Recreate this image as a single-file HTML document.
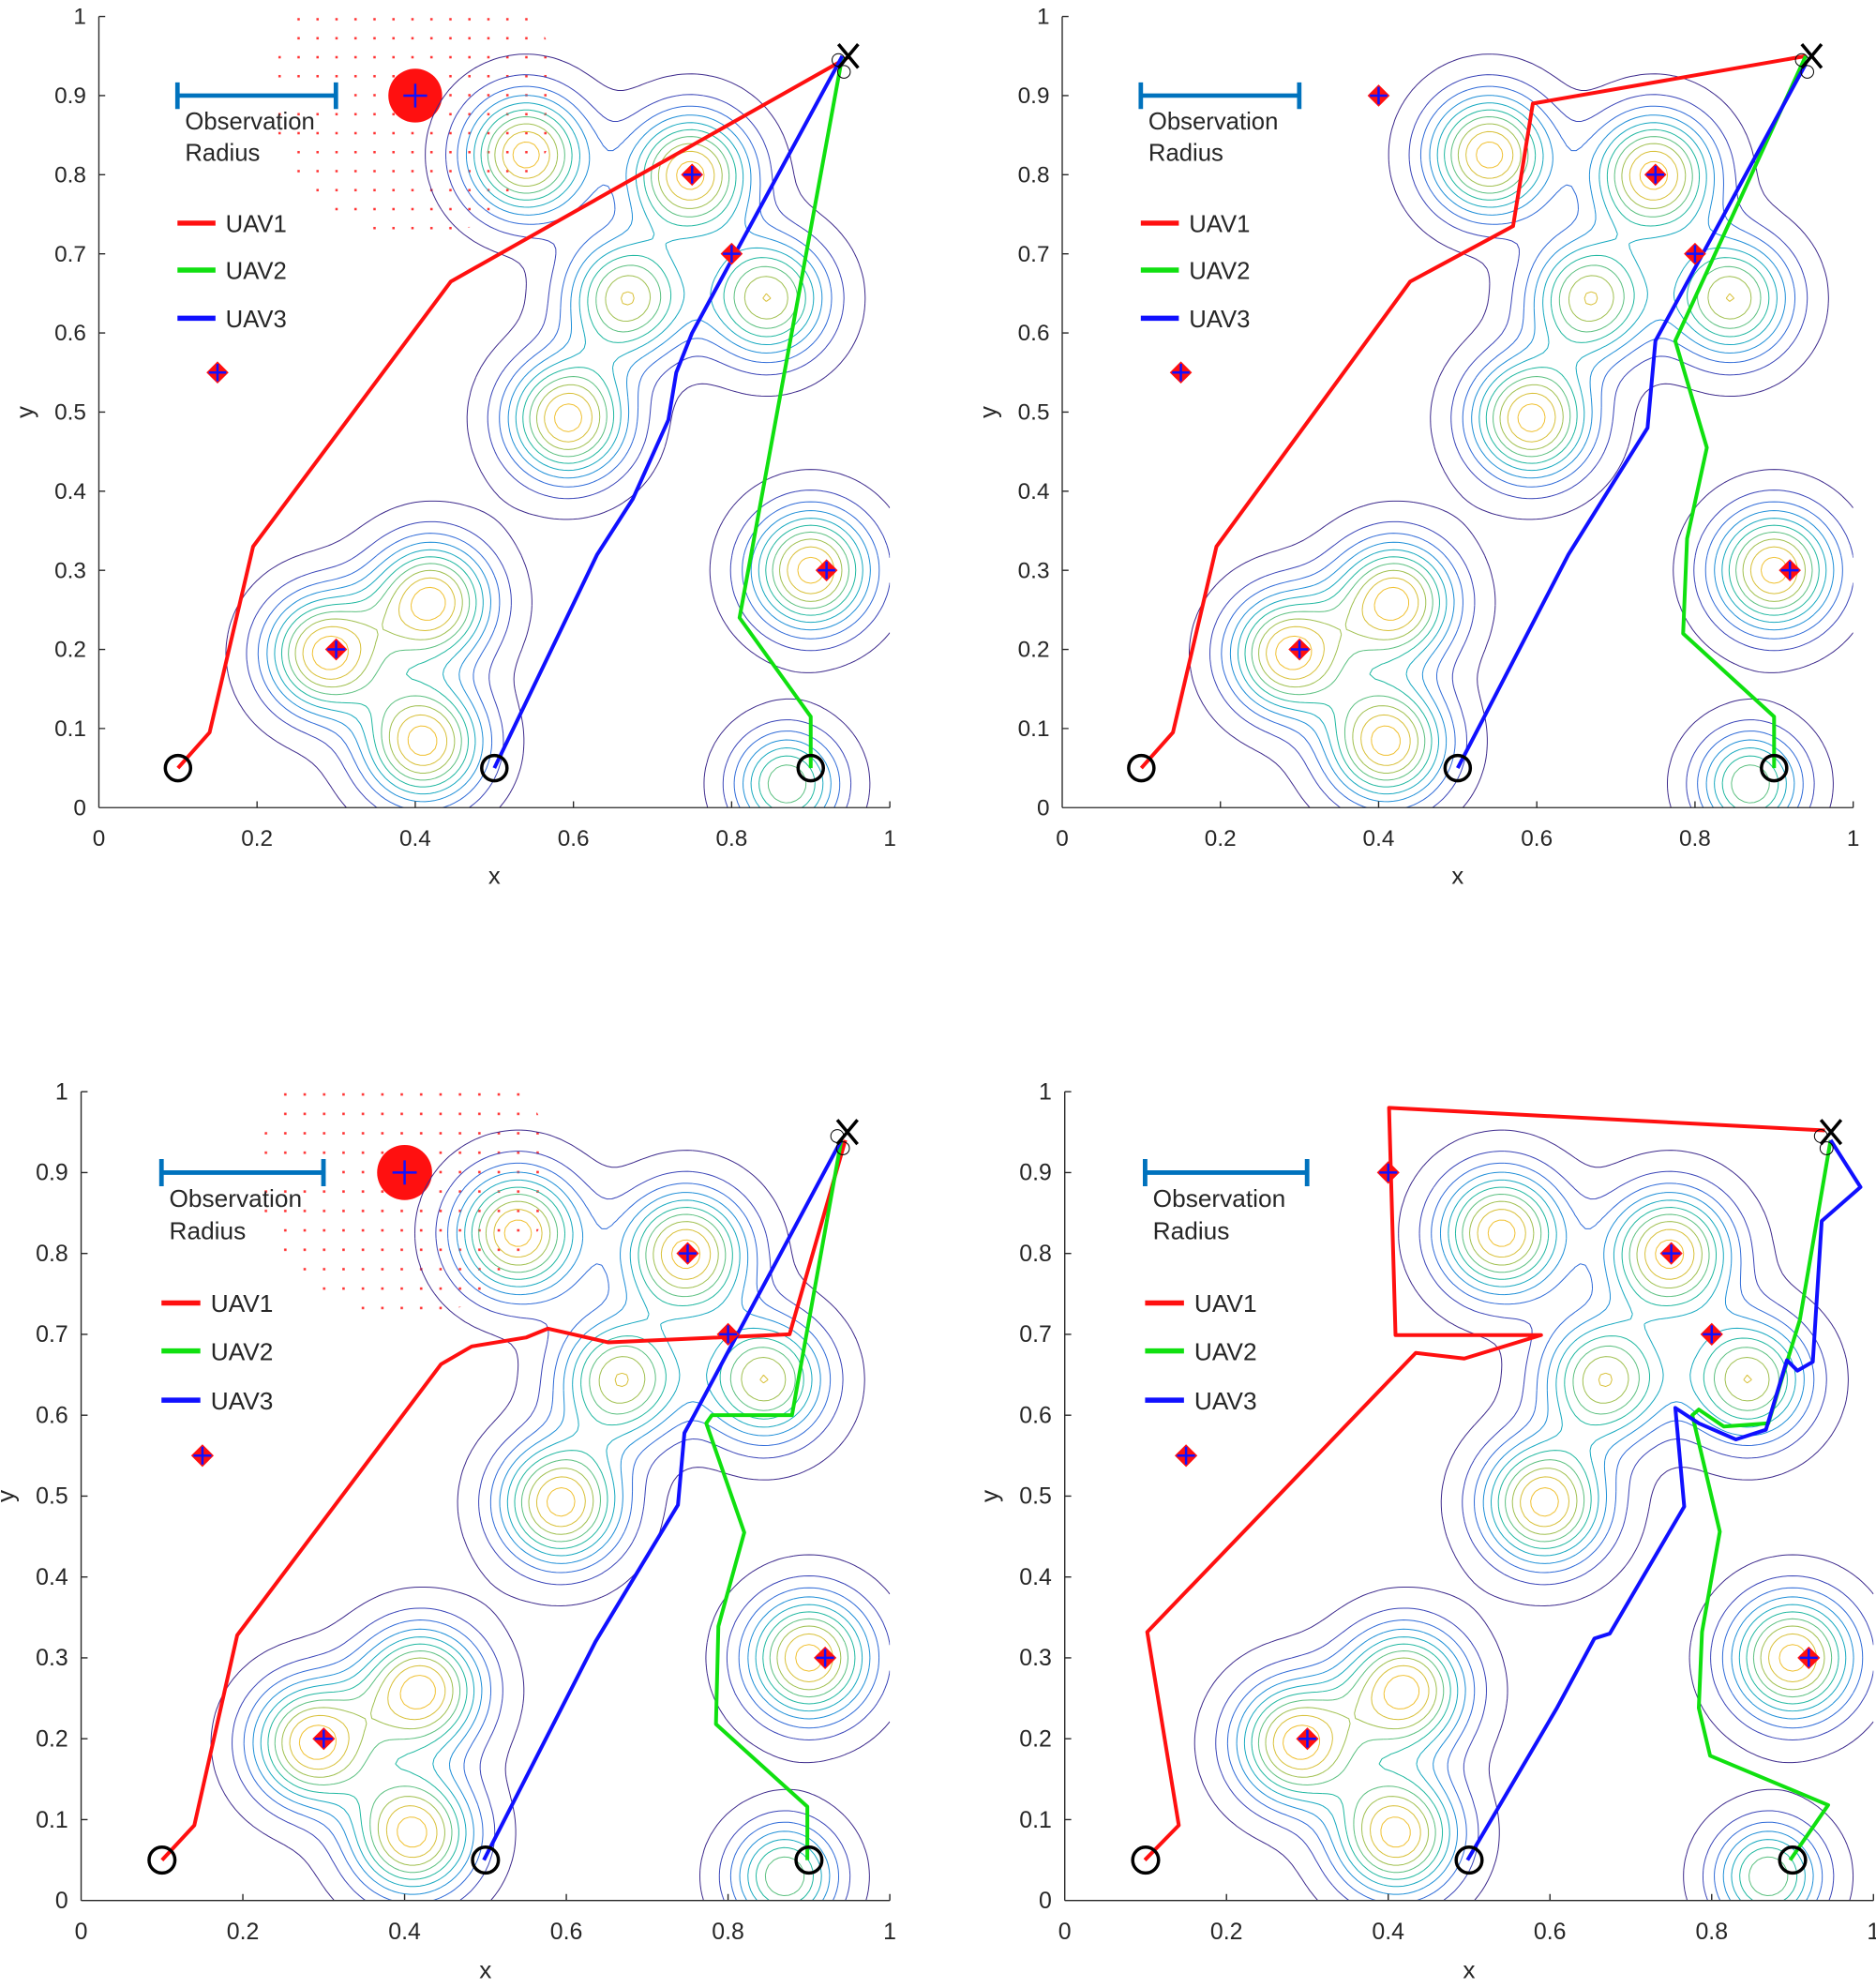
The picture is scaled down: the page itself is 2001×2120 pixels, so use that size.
<!DOCTYPE html>
<html><head><meta charset="utf-8"><style>
html,body{margin:0;padding:0;background:#fff}
svg{display:block}
text{font-family:"Liberation Sans",Arial,sans-serif;fill:#262626}
</style></head><body>
<svg width="2001" height="2120" viewBox="0 0 1480 1568" preserveAspectRatio="none" xmlns="http://www.w3.org/2000/svg">
<defs>
<clipPath id="unit" clipPathUnits="userSpaceOnUse"><rect x="0" y="0" width="1" height="1"/></clipPath>
<pattern id="dots" x="0" y="0" width="0.024" height="0.024" patternUnits="userSpaceOnUse">
<rect x="0.011" y="0.011" width="0.003" height="0.003" fill="#ff3030"/>
</pattern>
<g id="field" clip-path="url(#unit)"></g>
<g id="targ">
<polygon points="-0.014,0 0,-0.014 0.014,0 0,0.014" fill="#ff1010"/>
<path d="M-0.011,0H0.011M0,-0.011V0.011" stroke="#1010ff" stroke-width="2.5" vector-effect="non-scaling-stroke"/>
</g>
<g id="targets">
<use href="#targ" transform="translate(0.15,0.55)"/>
<use href="#targ" transform="translate(0.3,0.2)"/>
<use href="#targ" transform="translate(0.75,0.8)"/>
<use href="#targ" transform="translate(0.8,0.7)"/>
<use href="#targ" transform="translate(0.92,0.3)"/>
</g>
<g id="ends" fill="none" stroke="#000">
<circle cx="0.1" cy="0.05" r="0.016" stroke-width="3.5" vector-effect="non-scaling-stroke"/>
<circle cx="0.5" cy="0.05" r="0.016" stroke-width="3.5" vector-effect="non-scaling-stroke"/>
<circle cx="0.9" cy="0.05" r="0.016" stroke-width="3.5" vector-effect="non-scaling-stroke"/>
<circle cx="0.935" cy="0.945" r="0.008" stroke-width="1" vector-effect="non-scaling-stroke"/>
<circle cx="0.942" cy="0.93" r="0.008" stroke-width="1" vector-effect="non-scaling-stroke"/>
<path d="M0.935,0.935L0.96,0.965M0.935,0.965L0.96,0.935" stroke-width="3.5" vector-effect="non-scaling-stroke"/>
</g>
<g id="obs">
<circle cx="0.4" cy="0.9" r="0.18" fill="url(#dots)" clip-path="url(#unit)"/>
<circle cx="0.4" cy="0.9" r="0.034" fill="#ff1010"/>
<path d="M0.385,0.9H0.415M0.4,0.885V0.915" stroke="#1010ff" stroke-width="2.5" vector-effect="non-scaling-stroke"/>
</g>
<g id="ax">
<path d="M0,0H624M0,0V-624" stroke="#262626" stroke-width="1" fill="none"/>
<path d="M0,-62.4h5M0,-124.8h5M0,-187.2h5M0,-249.6h5M0,-312h5M0,-374.4h5M0,-436.8h5M0,-499.2h5M0,-561.6h5M0,-624h5M124.8,0v-5M249.6,0v-5M374.4,0v-5M499.2,0v-5M624,0v-5" stroke="#262626"/>
<g font-size="18" text-anchor="end">
<text x="-10" y="6">0</text><text x="-10" y="-56.4">0.1</text><text x="-10" y="-118.8">0.2</text><text x="-10" y="-181.2">0.3</text><text x="-10" y="-243.6">0.4</text><text x="-10" y="-306">0.5</text><text x="-10" y="-368.4">0.6</text><text x="-10" y="-430.8">0.7</text><text x="-10" y="-493.2">0.8</text><text x="-10" y="-555.6">0.9</text><text x="-10" y="-618">1</text>
</g>
<g font-size="18" text-anchor="middle">
<text x="0" y="30">0</text><text x="124.8" y="30">0.2</text><text x="249.6" y="30">0.4</text><text x="374.4" y="30">0.6</text><text x="499.2" y="30">0.8</text><text x="624" y="30">1</text>
<text x="312" y="60" font-size="19">x</text>
<text x="-52" y="-312" font-size="19" transform="rotate(-90 -52 -312)">y</text>
</g>
<path d="M62,-561.6H187M62,-572V-551M187,-572V-551" stroke="#0072bd" stroke-width="3.5" fill="none"/>
<text x="68" y="-535" font-size="19">Observation</text>
<text x="68" y="-510" font-size="19">Radius</text>
<path d="M62,-461H92" stroke="#ff1010" stroke-width="4"/>
<path d="M62,-424H92" stroke="#10e010" stroke-width="4"/>
<path d="M62,-386H92" stroke="#1010ff" stroke-width="4"/>
<text x="100" y="-454" font-size="19">UAV1</text>
<text x="100" y="-417" font-size="19">UAV2</text>
<text x="100" y="-379" font-size="19">UAV3</text>
</g>
</defs>

<!-- Top-left -->
<g transform="translate(78,637) scale(624,-624)">
<use href="#obs"/><use href="#field"/>
<g fill="none" stroke-width="4" stroke-linejoin="round">
<polyline vector-effect="non-scaling-stroke" stroke="#ff1010" points="0.1,0.05 0.14,0.095 0.195,0.33 0.445,0.665 0.95,0.95"/>
<polyline vector-effect="non-scaling-stroke" stroke="#10e010" points="0.9,0.05 0.9,0.115 0.81,0.24 0.94,0.95"/>
<polyline vector-effect="non-scaling-stroke" stroke="#1010ff" points="0.5,0.05 0.63,0.32 0.675,0.39 0.72,0.49 0.73,0.55 0.75,0.6 0.94,0.95"/>
</g>
<use href="#targets"/><use href="#ends"/>
</g>
<use href="#ax" transform="translate(78,637)"/>

<!-- Top-right -->
<g transform="translate(838,637) scale(624,-624)">
<use href="#field"/>
<g fill="none" stroke-width="4" stroke-linejoin="round">
<polyline vector-effect="non-scaling-stroke" stroke="#ff1010" points="0.1,0.05 0.14,0.095 0.195,0.33 0.44,0.665 0.57,0.735 0.595,0.89 0.94,0.95"/>
<polyline vector-effect="non-scaling-stroke" stroke="#10e010" points="0.9,0.05 0.9,0.115 0.785,0.22 0.79,0.34 0.815,0.455 0.775,0.59 0.94,0.95"/>
<polyline vector-effect="non-scaling-stroke" stroke="#1010ff" points="0.5,0.05 0.64,0.32 0.74,0.48 0.75,0.59 0.94,0.94"/>
</g>
<use href="#targets"/><use href="#targ" transform="translate(0.4,0.9)"/><use href="#ends"/>
</g>
<use href="#ax" transform="translate(838,637)"/>

<!-- Bottom-left -->
<g transform="translate(64,1499) scale(638,-638)">
<use href="#obs"/><use href="#field"/>
<g fill="none" stroke-width="4" stroke-linejoin="round">
<polyline vector-effect="non-scaling-stroke" stroke="#ff1010" points="0.1,0.05 0.14,0.093 0.193,0.328 0.445,0.663 0.483,0.685 0.55,0.696 0.577,0.707 0.652,0.69 0.876,0.7 0.945,0.94"/>
<polyline vector-effect="non-scaling-stroke" stroke="#10e010" points="0.898,0.05 0.898,0.116 0.785,0.218 0.788,0.339 0.82,0.455 0.773,0.59 0.78,0.6 0.879,0.6 0.94,0.94"/>
<polyline vector-effect="non-scaling-stroke" stroke="#1010ff" points="0.498,0.05 0.636,0.32 0.738,0.489 0.746,0.578 0.758,0.6 0.94,0.94"/>
</g>
<use href="#targets"/><use href="#ends"/>
</g>
<use href="#ax" transform="translate(64,1499) scale(1.0224)"/>

<!-- Bottom-right -->
<g transform="translate(840,1499) scale(638,-638)">
<use href="#field"/>
<g fill="none" stroke-width="4" stroke-linejoin="round">
<polyline vector-effect="non-scaling-stroke" stroke="#ff1010" points="0.099,0.05 0.141,0.093 0.102,0.332 0.434,0.677 0.494,0.67 0.589,0.699 0.409,0.699 0.401,0.98 0.94,0.952"/>
<polyline vector-effect="non-scaling-stroke" stroke="#10e010" points="0.897,0.05 0.944,0.118 0.798,0.179 0.784,0.238 0.788,0.332 0.81,0.456 0.776,0.6 0.784,0.607 0.815,0.586 0.87,0.59 0.909,0.718 0.947,0.94"/>
<polyline vector-effect="non-scaling-stroke" stroke="#1010ff" points="0.498,0.05 0.608,0.237 0.655,0.324 0.674,0.33 0.766,0.487 0.755,0.609 0.784,0.59 0.83,0.57 0.867,0.582 0.893,0.668 0.906,0.655 0.925,0.666 0.936,0.84 0.984,0.882 0.947,0.94"/>
</g>
<use href="#targets"/><use href="#targ" transform="translate(0.4,0.9)"/><use href="#ends"/>
</g>
<use href="#ax" transform="translate(840,1499) scale(1.0224)"/>
</svg>
<script>
(function(){
var ns="http://www.w3.org/2000/svg";
var g=document.getElementById("field");
var cols=["#3d2a8c","#3a45b8","#2f6bd8","#1f8fd8","#17a9c0","#20b8a0","#5cc080","#a0c050","#d8c038","#f0c030"];
var peaks=[[0.54,0.825],[0.748,0.8],[0.668,0.644,0.85],[0.845,0.644,0.85],[0.593,0.492],[0.42,0.26],[0.288,0.195],[0.41,0.083],[0.9,0.3],[0.87,0.03,0.75,0.045]];
var s0=0.052,N=160,h=1/N;
function f(x,y){var v=0;for(var i=0;i<peaks.length;i++){var p=peaks[i],dx=x-p[0],dy=y-p[1],a=p[2]||1,s=p[3]||s0;v+=a*Math.exp(-(dx*dx+dy*dy)/(2*s*s));}return v;}
var F=[];for(var i=0;i<=N;i++){F[i]=[];for(var j=0;j<=N;j++)F[i][j]=f(i*h,j*h);}
for(var k=0;k<10;k++){
 var L=0.05+0.1*k,d="";
 for(var i=0;i<N;i++)for(var j=0;j<N;j++){
  var a=F[i][j],b=F[i+1][j],c=F[i+1][j+1],e=F[i][j+1];
  var pts=[];
  var x0=i*h,y0=j*h;
  if((a<L)!=(b<L))pts.push([x0+h*(L-a)/(b-a),y0]);
  if((b<L)!=(c<L))pts.push([x0+h,y0+h*(L-b)/(c-b)]);
  if((e<L)!=(c<L))pts.push([x0+h*(L-e)/(c-e),y0+h]);
  if((a<L)!=(e<L))pts.push([x0,y0+h*(L-a)/(e-a)]);
  if(pts.length>=2){d+="M"+pts[0][0].toFixed(4)+","+pts[0][1].toFixed(4)+"L"+pts[1][0].toFixed(4)+","+pts[1][1].toFixed(4);}
  if(pts.length==4){d+="M"+pts[2][0].toFixed(4)+","+pts[2][1].toFixed(4)+"L"+pts[3][0].toFixed(4)+","+pts[3][1].toFixed(4);}
 }
 var p=document.createElementNS(ns,"path");
 p.setAttribute("d",d);p.setAttribute("fill","none");p.setAttribute("stroke",cols[k]);
 p.setAttribute("stroke-width","1");p.setAttribute("vector-effect","non-scaling-stroke");
 g.appendChild(p);
}
})();
</script>
</body></html>
